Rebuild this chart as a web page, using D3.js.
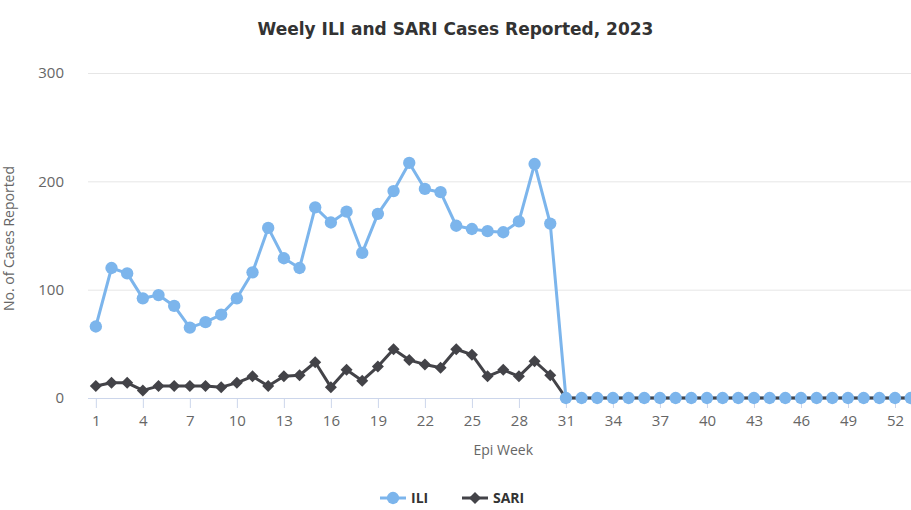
<!DOCTYPE html>
<html>
<head>
<meta charset="utf-8">
<script src="https://cdn.jsdelivr.net/npm/d3@7"></script>
<style>
  html, body { margin: 0; padding: 0; background: #fff; }
  svg { display: block; font-family: "Open Sans", "DejaVu Sans", sans-serif; }
</style>
</head>
<body>
<div id="chart"></div>
<script>
// weekly ILI / SARI line chart

const weeks = d3.range(1, 54);
const iliValues = [66, 120, 115, 92, 95, 85, 65, 70, 77, 92, 116, 157, 129, 120, 176, 162, 172, 134, 170,
  191, 217, 193, 190, 159, 156, 154, 153, 163, 216, 161,
  0, 0, 0, 0, 0, 0, 0, 0, 0, 0, 0, 0, 0, 0, 0, 0, 0, 0, 0, 0, 0, 0, 0];
const sariValues = [11, 14, 14, 7, 11, 11, 11, 11, 10, 14, 20, 11, 20, 21, 33, 10, 26, 16, 29,
  45, 35, 31, 28, 45, 40, 20, 26, 20, 34, 21,
  0, 0, 0, 0, 0, 0, 0, 0, 0, 0, 0, 0, 0, 0, 0, 0, 0, 0, 0, 0, 0, 0, 0];
const yTicks = [0, 100, 200, 300];
const xTickWeeks = d3.range(1, 54, 3);

const W = 911, H = 510;
const plot = { left: 88, right: 918.5, top: 73, bottom: 398 };

const svg = d3.select('#chart').append('svg')
  .attr('width', W).attr('height', H)
  .attr('viewBox', [0, 0, W, H]);

const x = d3.scalePoint().domain(weeks).range([plot.left, plot.right]).padding(0.5);
const y = d3.scaleLinear().domain([0, 300]).range([plot.bottom, plot.top]);

// title
svg.append('text')
  .attr('x', W / 2).attr('y', 35)
  .attr('text-anchor', 'middle')
  .attr('font-family', '"DejaVu Sans", sans-serif')
  .attr('font-size', 17).attr('font-weight', 'bold').attr('fill', '#333')
  .text('Weely ILI and SARI Cases Reported, 2023');

// grid + y labels
const yAxis = svg.append('g')
  .attr('transform', `translate(${plot.left},0)`)
  .call(d3.axisLeft(y).tickValues(yTicks).tickSize(-(plot.right - plot.left)).tickPadding(24));
yAxis.select('.domain').remove();
yAxis.selectAll('.tick line').attr('stroke', '#e6e6e6');
yAxis.selectAll('.tick text').attr('font-size', 15).attr('fill', '#666')
  .attr('font-family', '"Open Sans", "DejaVu Sans", sans-serif');
yAxis.selectAll('.tick').filter(d => d === 0).select('line').remove();

svg.append('text')
  .attr('transform', `translate(14,${(plot.top + plot.bottom) / 2 + 3}) rotate(-90)`)
  .attr('text-anchor', 'middle')
  .attr('font-size', 14).attr('fill', '#666')
  .text('No. of Cases Reported');

// x axis
const xAxis = svg.append('g')
  .attr('transform', `translate(0,${plot.bottom})`)
  .call(d3.axisBottom(x).tickValues(xTickWeeks).tickSizeOuter(0).tickSize(10).tickPadding(7));
xAxis.select('.domain').attr('stroke', '#ccd6eb').attr('d', `M${plot.left},0.5H${plot.right}`);
xAxis.selectAll('.tick line').attr('stroke', '#ccd6eb');
xAxis.selectAll('.tick text').attr('font-size', 15).attr('fill', '#666')
  .attr('font-family', '"Open Sans", "DejaVu Sans", sans-serif');

svg.append('text')
  .attr('x', (plot.left + plot.right) / 2).attr('y', 455)
  .attr('text-anchor', 'middle')
  .attr('font-size', 14).attr('fill', '#666')
  .text('Epi Week');

// square diamond like the Highcharts marker
const diamond = {
  draw(ctx, size) {
    const r = Math.sqrt(size / 2);
    ctx.moveTo(0, -r); ctx.lineTo(r, 0); ctx.lineTo(0, r); ctx.lineTo(-r, 0); ctx.closePath();
  }
};

// series
const series = [
  { name: 'ILI', values: iliValues, color: '#7cb5ec', symbol: d3.symbolCircle, size: 120 },
  { name: 'SARI', values: sariValues, color: '#434348', symbol: diamond, size: 72 }
];

const line = d3.line().x((d, i) => x(weeks[i])).y(d => y(d));

series.forEach(s => {
  svg.append('path')
    .attr('d', line(s.values))
    .attr('fill', 'none')
    .attr('stroke', s.color)
    .attr('stroke-width', 3)
    .attr('stroke-linejoin', 'round');
});

series.slice().reverse().forEach(s => {
  svg.append('g').selectAll('path')
    .data(s.values)
    .join('path')
    .attr('transform', (d, i) => `translate(${x(weeks[i])},${y(d)})`)
    .attr('d', d3.symbol().type(s.symbol).size(s.size))
    .attr('fill', s.color);
});

// legend
const legend = svg.append('g').attr('transform', 'translate(0,498)');
const legendPos = [380, 462];
series.forEach((s, i) => {
  const g = legend.append('g').attr('transform', `translate(${legendPos[i]},0)`);
  g.append('line').attr('x1', 0).attr('x2', 26).attr('stroke', s.color).attr('stroke-width', 3);
  g.append('path').attr('transform', 'translate(13,0)')
    .attr('d', d3.symbol().type(s.symbol).size(s.size)).attr('fill', s.color);
  g.append('text').attr('x', 31).attr('dy', '0.35em')
    .attr('font-size', 14).attr('font-weight', 'bold').attr('fill', '#333')
    .text(s.name);
});
</script>
</body>
</html>
